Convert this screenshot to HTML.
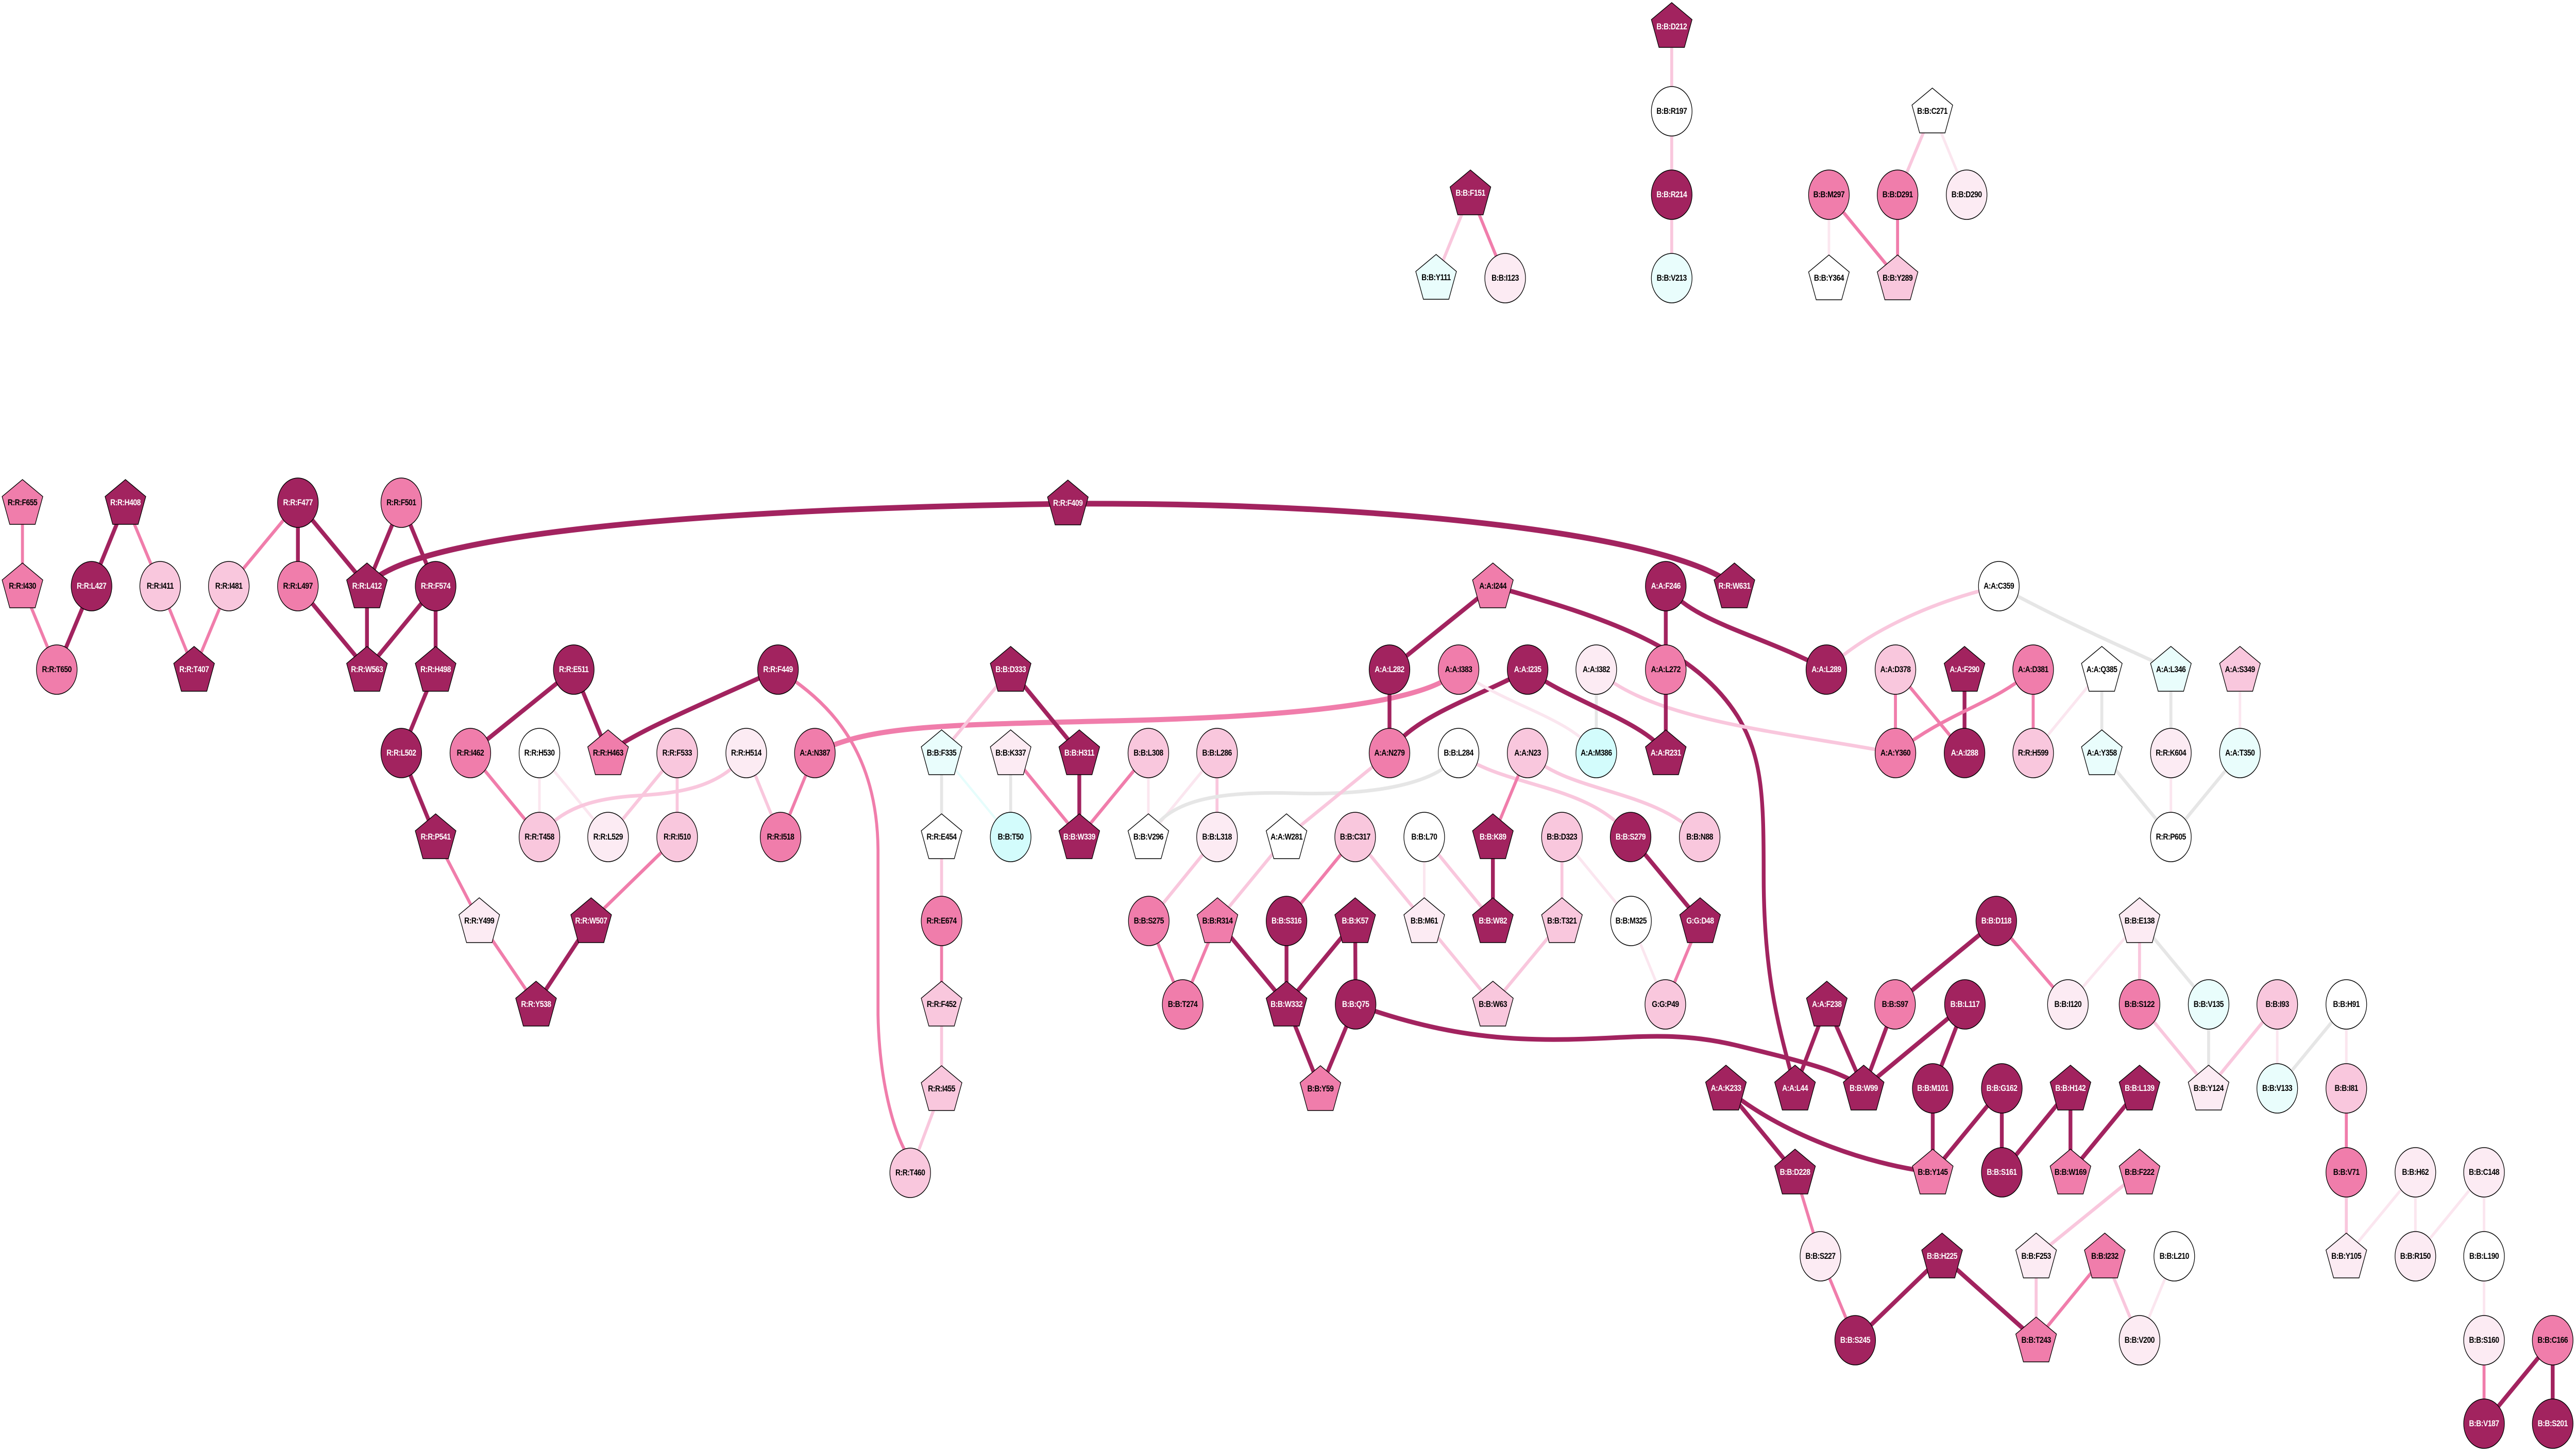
<!DOCTYPE html>
<html><head><meta charset="utf-8">
<meta name="viewport" content="width=6079">
<style>
html,body{margin:0;padding:0;background:#fff;overflow:hidden;width:100vw;height:100vh;}
svg{display:block;width:100vw;height:100vh;}
.D{fill:#a2235f;stroke:#000;stroke-width:1.5}
.M{fill:#f07dab;stroke:#000;stroke-width:1.5}
.L{fill:#f9c7dd;stroke:#000;stroke-width:1.5}
.V{fill:#fcebf3;stroke:#000;stroke-width:1.5}
.W{fill:#ffffff;stroke:#000;stroke-width:1.5}
.C{fill:#e9fdfc;stroke:#000;stroke-width:1.5}
.CC{fill:#d3fcfc;stroke:#000;stroke-width:1.5}
text{font-family:"Liberation Sans",Arial,sans-serif;font-weight:bold;font-size:17px;letter-spacing:-0.6px;text-anchor:middle;dominant-baseline:central;fill:#000}
text.w{fill:#fff}
.ed path,.ed line{fill:none;stroke-linecap:butt}
.d{stroke:#a2235f;stroke-width:9}
.dt{stroke:#a2235f;stroke-width:11}
.m{stroke:#f07dab;stroke-width:7}
.mt{stroke:#f07dab;stroke-width:10}
.l{stroke:#f9c7dd;stroke-width:7}
.v{stroke:#fbe6ef;stroke-width:6}
.g{stroke:#e6e6e6;stroke-width:7}
.c{stroke:#e6fdfc;stroke-width:5}
</style></head><body>
<svg viewBox="0 0 6079 2819" preserveAspectRatio="none" xmlns="http://www.w3.org/2000/svg">
<defs><polygon id="p" points="0,-45 48,-12 30,42 -30,42 -48,-12"/></defs>
<g class="ed">
<line class="m" x1="53" y1="976" x2="53" y2="1138"/>
<line class="d" x1="296" y1="976" x2="216" y2="1138"/>
<line class="m" x1="296" y1="976" x2="378" y2="1138"/>
<line class="m" x1="703" y1="976" x2="540" y2="1138"/>
<line class="d" x1="703" y1="976" x2="703" y2="1138"/>
<line class="d" x1="703" y1="976" x2="866" y2="1138"/>
<line class="d" x1="947" y1="976" x2="866" y2="1138"/>
<line class="d" x1="947" y1="976" x2="1028" y2="1138"/>
<line class="m" x1="53" y1="1138" x2="134" y2="1300"/>
<line class="d" x1="216" y1="1138" x2="134" y2="1300"/>
<line class="m" x1="378" y1="1138" x2="458" y2="1300"/>
<line class="m" x1="540" y1="1138" x2="458" y2="1300"/>
<line class="d" x1="703" y1="1138" x2="866" y2="1300"/>
<line class="d" x1="866" y1="1138" x2="866" y2="1300"/>
<line class="d" x1="1028" y1="1138" x2="866" y2="1300"/>
<line class="d" x1="1028" y1="1138" x2="1028" y2="1300"/>
<line class="d" x1="1028" y1="1300" x2="947" y2="1462"/>
<line class="d" x1="947" y1="1462" x2="1028" y2="1625"/>
<line class="m" x1="1028" y1="1625" x2="1131" y2="1788"/>
<line class="m" x1="1131" y1="1788" x2="1265" y2="1950"/>
<line class="d" x1="1395" y1="1788" x2="1265" y2="1950"/>
<line class="m" x1="1598" y1="1625" x2="1395" y2="1788"/>
<line class="d" x1="1354" y1="1300" x2="1110" y2="1462"/>
<line class="d" x1="1354" y1="1300" x2="1435" y2="1462"/>
<path class="d" d="M1836 1300 C1650 1370,1500 1420,1435 1462"/>
<path class="m" d="M1836 1300 C1950 1360,2070 1450,2072 1650 L2072 1970 C2075 2100,2110 2200,2140 2240"/>
<line class="m" x1="1110" y1="1462" x2="1273" y2="1625"/>
<line class="v" x1="1273" y1="1462" x2="1273" y2="1625"/>
<line class="v" x1="1273" y1="1462" x2="1435" y2="1625"/>
<line class="l" x1="1598" y1="1462" x2="1435" y2="1625"/>
<line class="l" x1="1598" y1="1462" x2="1598" y2="1625"/>
<path class="l" d="M1761 1462 C1700 1530,1600 1540,1500 1545 C1400 1550,1320 1570,1273 1625"/>
<line class="l" x1="1761" y1="1462" x2="1842" y2="1625"/>
<line class="m" x1="1923" y1="1462" x2="1842" y2="1625"/>
<path class="mt" d="M1923 1462 C2050 1410,2200 1408,2600 1400 C3100 1392,3380 1360,3442 1300"/>
<line class="l" x1="2385" y1="1300" x2="2222" y2="1462"/>
<line class="d" x1="2385" y1="1300" x2="2547" y2="1462"/>
<line class="g" x1="2222" y1="1462" x2="2222" y2="1625"/>
<line class="c" x1="2222" y1="1462" x2="2385" y2="1625"/>
<line class="g" x1="2385" y1="1462" x2="2385" y2="1625"/>
<line class="m" x1="2385" y1="1462" x2="2547" y2="1625"/>
<line class="d" x1="2547" y1="1462" x2="2547" y2="1625"/>
<line class="m" x1="2710" y1="1462" x2="2547" y2="1625"/>
<line class="v" x1="2710" y1="1462" x2="2710" y2="1625"/>
<line class="v" x1="2872" y1="1462" x2="2710" y2="1625"/>
<line class="l" x1="2872" y1="1462" x2="2872" y2="1625"/>
<path class="g" d="M3442 1462 C3400 1520,3250 1545,3050 1540 C2850 1535,2750 1560,2710 1625"/>
<line class="l" x1="2222" y1="1625" x2="2222" y2="1788"/>
<line class="m" x1="2222" y1="1788" x2="2222" y2="1950"/>
<line class="l" x1="2222" y1="1950" x2="2222" y2="2114"/>
<line class="l" x1="2222" y1="2114" x2="2148" y2="2277"/>
<line class="l" x1="2872" y1="1625" x2="2711" y2="1788"/>
<line class="l" x1="3036" y1="1625" x2="2873" y2="1788"/>
<line class="l" x1="3279" y1="1462" x2="3036" y2="1625"/>
<line class="d" x1="3279" y1="1300" x2="3279" y2="1462"/>
<line class="d" x1="3279" y1="1300" x2="3523" y2="1138"/>
<path class="d" d="M3605 1300 C3500 1350,3330 1390,3279 1462"/>
<line class="m" x1="3198" y1="1625" x2="3036" y2="1788"/>
<line class="l" x1="3198" y1="1625" x2="3361" y2="1788"/>
<line class="v" x1="3361" y1="1625" x2="3361" y2="1788"/>
<line class="l" x1="3361" y1="1625" x2="3523" y2="1788"/>
<line class="m" x1="2711" y1="1788" x2="2791" y2="1950"/>
<line class="m" x1="2873" y1="1788" x2="2791" y2="1950"/>
<line class="d" x1="2873" y1="1788" x2="3036" y2="1950"/>
<line class="d" x1="3036" y1="1788" x2="3036" y2="1950"/>
<line class="d" x1="3198" y1="1788" x2="3036" y2="1950"/>
<line class="d" x1="3198" y1="1788" x2="3199" y2="1950"/>
<line class="d" x1="3036" y1="1950" x2="3116" y2="2114"/>
<line class="d" x1="3199" y1="1950" x2="3116" y2="2114"/>
<path class="d" d="M3199 1950 C3400 2010,3550 2020,3700 2018 C3850 2016,3950 2000,4100 2030 C4250 2060,4350 2080,4398 2113"/>
<path class="dt" d="M866 1138 C950 1050,1500 990,2520 978 C3300 975,3950 1040,4093 1138"/>
<path class="d" d="M3523 1138 C3800 1200,4000 1260,4100 1390 C4160 1470,4162 1550,4162 1700 C4162 1900,4200 2000,4236 2113"/>
<line class="d" x1="3931" y1="1138" x2="3931" y2="1300"/>
<path class="d" d="M3931 1138 C4000 1210,4150 1230,4310 1300"/>
<path class="l" d="M4310 1300 C4400 1230,4550 1170,4717 1138"/>
<path class="v" d="M3442 1300 C3550 1370,3700 1390,3767 1462"/>
<line class="g" x1="3767" y1="1300" x2="3767" y2="1462"/>
<path class="l" d="M3767 1300 C3900 1400,4200 1420,4473 1462"/>
<path class="d" d="M3605 1300 C3700 1360,3880 1400,3931 1462"/>
<line class="d" x1="3931" y1="1300" x2="3931" y2="1462"/>
<line class="m" x1="4473" y1="1300" x2="4473" y2="1462"/>
<line class="m" x1="4473" y1="1300" x2="4636" y2="1462"/>
<line class="d" x1="4636" y1="1300" x2="4636" y2="1462"/>
<path class="m" d="M4473 1462 C4600 1380,4700 1370,4798 1300"/>
<line class="m" x1="4798" y1="1300" x2="4798" y2="1462"/>
<line class="v" x1="4960" y1="1300" x2="4798" y2="1462"/>
<line class="g" x1="4960" y1="1300" x2="4960" y2="1462"/>
<path class="g" d="M4717 1138 C4900 1220,5050 1270,5123 1300"/>
<line class="g" x1="5123" y1="1300" x2="5123" y2="1462"/>
<line class="v" x1="5286" y1="1300" x2="5286" y2="1462"/>
<line class="g" x1="4960" y1="1462" x2="5123" y2="1625"/>
<line class="v" x1="5123" y1="1462" x2="5123" y2="1625"/>
<line class="g" x1="5286" y1="1462" x2="5123" y2="1625"/>
<path class="l" d="M3442 1462 C3550 1530,3750 1520,3848 1625"/>
<line class="m" x1="3605" y1="1462" x2="3523" y2="1625"/>
<path class="l" d="M3605 1462 C3700 1540,3900 1530,4011 1625"/>
<line class="d" x1="3523" y1="1625" x2="3523" y2="1788"/>
<line class="l" x1="3686" y1="1625" x2="3686" y2="1788"/>
<line class="v" x1="3686" y1="1625" x2="3849" y2="1788"/>
<line class="d" x1="3848" y1="1625" x2="4012" y2="1788"/>
<line class="l" x1="3361" y1="1788" x2="3523" y2="1950"/>
<line class="l" x1="3686" y1="1788" x2="3523" y2="1950"/>
<line class="v" x1="3849" y1="1788" x2="3930" y2="1950"/>
<line class="m" x1="4012" y1="1788" x2="3930" y2="1950"/>
<line class="d" x1="4311" y1="1950" x2="4236" y2="2113"/>
<line class="d" x1="4311" y1="1950" x2="4398" y2="2113"/>
<line class="d" x1="4472" y1="1950" x2="4398" y2="2113"/>
<line class="d" x1="4472" y1="1950" x2="4711" y2="1788"/>
<line class="d" x1="4637" y1="1950" x2="4398" y2="2113"/>
<line class="d" x1="4637" y1="1950" x2="4561" y2="2113"/>
<line class="d" x1="4073" y1="2113" x2="4236" y2="2276"/>
<path class="d" d="M4073 2113 C4200 2200,4400 2260,4561 2276"/>
<line class="d" x1="4561" y1="2113" x2="4561" y2="2276"/>
<line class="d" x1="4724" y1="2113" x2="4561" y2="2276"/>
<line class="d" x1="4724" y1="2113" x2="4724" y2="2276"/>
<line class="d" x1="4886" y1="2113" x2="4724" y2="2276"/>
<line class="d" x1="4886" y1="2113" x2="4886" y2="2276"/>
<line class="d" x1="5049" y1="2113" x2="4886" y2="2276"/>
<line class="l" x1="5049" y1="2276" x2="4805" y2="2439"/>
<line class="m" x1="4711" y1="1788" x2="4880" y2="1950"/>
<line class="v" x1="5049" y1="1788" x2="4880" y2="1950"/>
<line class="l" x1="5049" y1="1788" x2="5049" y2="1950"/>
<line class="g" x1="5049" y1="1788" x2="5212" y2="1950"/>
<line class="l" x1="5049" y1="1950" x2="5212" y2="2113"/>
<line class="g" x1="5212" y1="1950" x2="5212" y2="2113"/>
<line class="l" x1="5374" y1="1950" x2="5212" y2="2113"/>
<line class="v" x1="5374" y1="1950" x2="5374" y2="2113"/>
<line class="g" x1="5537" y1="1950" x2="5374" y2="2113"/>
<line class="v" x1="5537" y1="1950" x2="5537" y2="2113"/>
<line class="m" x1="5537" y1="2113" x2="5537" y2="2276"/>
<line class="l" x1="5537" y1="2276" x2="5537" y2="2439"/>
<line class="v" x1="5700" y1="2276" x2="5537" y2="2439"/>
<line class="v" x1="5700" y1="2276" x2="5700" y2="2439"/>
<line class="v" x1="5862" y1="2276" x2="5700" y2="2439"/>
<line class="v" x1="5862" y1="2276" x2="5862" y2="2439"/>
<line class="d" x1="4583" y1="2439" x2="4805" y2="2602"/>
<line class="l" x1="4805" y1="2439" x2="4805" y2="2602"/>
<line class="m" x1="4967" y1="2439" x2="4805" y2="2602"/>
<line class="l" x1="4967" y1="2439" x2="5049" y2="2602"/>
<line class="v" x1="5131" y1="2439" x2="5049" y2="2602"/>
<line class="v" x1="5862" y1="2439" x2="5862" y2="2602"/>
<line class="m" x1="5862" y1="2602" x2="5862" y2="2764"/>
<line class="d" x1="6024" y1="2602" x2="5862" y2="2764"/>
<line class="d" x1="6024" y1="2602" x2="6024" y2="2764"/>
<line class="m" x1="4236" y1="2276" x2="4296" y2="2439"/>
<line class="m" x1="4296" y1="2439" x2="4378" y2="2602"/>
<line class="d" x1="4583" y1="2439" x2="4378" y2="2602"/>
<line class="l" x1="3945" y1="50" x2="3945" y2="216"/>
<line class="l" x1="3945" y1="216" x2="3945" y2="378"/>
<line class="l" x1="3945" y1="378" x2="3945" y2="540"/>
<line class="l" x1="3470" y1="375" x2="3389" y2="539"/>
<line class="m" x1="3470" y1="375" x2="3552" y2="540"/>
<line class="l" x1="4560" y1="216" x2="4478" y2="378"/>
<line class="v" x1="4560" y1="216" x2="4641" y2="378"/>
<line class="v" x1="4316" y1="378" x2="4316" y2="540"/>
<line class="m" x1="4316" y1="378" x2="4478" y2="540"/>
<line class="m" x1="4478" y1="378" x2="4478" y2="540"/>
</g>
<g>
<use href="#p" class="M" x="53" y="976"/><text x="53" y="976">R:R:F655</text>
<use href="#p" class="D" x="296" y="976"/><text class="w" x="296" y="976">R:R:H408</text>
<circle class="D" cx="703" cy="976" r="48"/><text class="w" x="703" y="976">R:R:F477</text>
<circle class="M" cx="947" cy="976" r="48"/><text x="947" y="976">R:R:F501</text>
<use href="#p" class="M" x="53" y="1138"/><text x="53" y="1138">R:R:I430</text>
<circle class="D" cx="216" cy="1138" r="48"/><text class="w" x="216" y="1138">R:R:L427</text>
<circle class="L" cx="378" cy="1138" r="48"/><text x="378" y="1138">R:R:I411</text>
<circle class="L" cx="540" cy="1138" r="48"/><text x="540" y="1138">R:R:I481</text>
<circle class="M" cx="703" cy="1138" r="48"/><text x="703" y="1138">R:R:L497</text>
<use href="#p" class="D" x="866" y="1138"/><text class="w" x="866" y="1138">R:R:L412</text>
<circle class="D" cx="1028" cy="1138" r="48"/><text class="w" x="1028" y="1138">R:R:F574</text>
<circle class="M" cx="134" cy="1300" r="48"/><text x="134" y="1300">R:R:T650</text>
<use href="#p" class="D" x="458" y="1300"/><text class="w" x="458" y="1300">R:R:T407</text>
<use href="#p" class="D" x="866" y="1300"/><text class="w" x="866" y="1300">R:R:W563</text>
<use href="#p" class="D" x="1028" y="1300"/><text class="w" x="1028" y="1300">R:R:H498</text>
<circle class="D" cx="947" cy="1462" r="48"/><text class="w" x="947" y="1462">R:R:L502</text>
<circle class="M" cx="1110" cy="1462" r="48"/><text x="1110" y="1462">R:R:I462</text>
<circle class="W" cx="1273" cy="1462" r="48"/><text x="1273" y="1462">R:R:H530</text>
<use href="#p" class="D" x="1028" y="1625"/><text class="w" x="1028" y="1625">R:R:P541</text>
<circle class="L" cx="1273" cy="1625" r="48"/><text x="1273" y="1625">R:R:T458</text>
<circle class="D" cx="1354" cy="1300" r="48"/><text class="w" x="1354" y="1300">R:R:E511</text>
<circle class="D" cx="1836" cy="1300" r="48"/><text class="w" x="1836" y="1300">R:R:F449</text>
<use href="#p" class="M" x="1435" y="1462"/><text x="1435" y="1462">R:R:H463</text>
<circle class="L" cx="1598" cy="1462" r="48"/><text x="1598" y="1462">R:R:F533</text>
<circle class="V" cx="1761" cy="1462" r="48"/><text x="1761" y="1462">R:R:H514</text>
<circle class="M" cx="1923" cy="1462" r="48"/><text x="1923" y="1462">A:A:N387</text>
<use href="#p" class="C" x="2222" y="1462"/><text x="2222" y="1462">B:B:F335</text>
<circle class="V" cx="1435" cy="1625" r="48"/><text x="1435" y="1625">R:R:L529</text>
<circle class="L" cx="1598" cy="1625" r="48"/><text x="1598" y="1625">R:R:I510</text>
<circle class="M" cx="1842" cy="1625" r="48"/><text x="1842" y="1625">R:R:I518</text>
<use href="#p" class="W" x="2222" y="1625"/><text x="2222" y="1625">R:R:E454</text>
<use href="#p" class="V" x="1131" y="1788"/><text x="1131" y="1788">R:R:Y499</text>
<use href="#p" class="D" x="1395" y="1788"/><text class="w" x="1395" y="1788">R:R:W507</text>
<circle class="M" cx="2222" cy="1788" r="48"/><text x="2222" y="1788">R:R:E674</text>
<use href="#p" class="D" x="1265" y="1950"/><text class="w" x="1265" y="1950">R:R:Y538</text>
<use href="#p" class="L" x="2222" y="1950"/><text x="2222" y="1950">R:R:F452</text>
<use href="#p" class="L" x="2222" y="2114"/><text x="2222" y="2114">R:R:I455</text>
<circle class="L" cx="2148" cy="2277" r="48"/><text x="2148" y="2277">R:R:T460</text>
<use href="#p" class="D" x="2520" y="977"/><text class="w" x="2520" y="977">R:R:F409</text>
<use href="#p" class="D" x="2385" y="1300"/><text class="w" x="2385" y="1300">B:B:D333</text>
<use href="#p" class="V" x="2385" y="1462"/><text x="2385" y="1462">B:B:K337</text>
<use href="#p" class="D" x="2547" y="1462"/><text class="w" x="2547" y="1462">B:B:H311</text>
<circle class="L" cx="2710" cy="1462" r="48"/><text x="2710" y="1462">B:B:L308</text>
<circle class="L" cx="2872" cy="1462" r="48"/><text x="2872" y="1462">B:B:L286</text>
<circle class="CC" cx="2385" cy="1625" r="48"/><text x="2385" y="1625">B:B:T50</text>
<use href="#p" class="D" x="2547" y="1625"/><text class="w" x="2547" y="1625">B:B:W339</text>
<use href="#p" class="W" x="2710" y="1625"/><text x="2710" y="1625">B:B:V296</text>
<circle class="V" cx="2872" cy="1625" r="48"/><text x="2872" y="1625">B:B:L318</text>
<circle class="M" cx="2711" cy="1788" r="48"/><text x="2711" y="1788">B:B:S275</text>
<use href="#p" class="M" x="2873" y="1788"/><text x="2873" y="1788">B:B:R314</text>
<circle class="M" cx="2791" cy="1950" r="48"/><text x="2791" y="1950">B:B:T274</text>
<circle class="D" cx="3279" cy="1300" r="48"/><text class="w" x="3279" y="1300">A:A:L282</text>
<circle class="M" cx="3442" cy="1300" r="48"/><text x="3442" y="1300">A:A:I383</text>
<circle class="M" cx="3279" cy="1462" r="48"/><text x="3279" y="1462">A:A:N279</text>
<circle class="W" cx="3442" cy="1462" r="48"/><text x="3442" y="1462">B:B:L284</text>
<use href="#p" class="W" x="3036" y="1625"/><text x="3036" y="1625">A:A:W281</text>
<circle class="L" cx="3198" cy="1625" r="48"/><text x="3198" y="1625">B:B:C317</text>
<circle class="W" cx="3361" cy="1625" r="48"/><text x="3361" y="1625">B:B:L70</text>
<circle class="D" cx="3036" cy="1788" r="48"/><text class="w" x="3036" y="1788">B:B:S316</text>
<use href="#p" class="D" x="3198" y="1788"/><text class="w" x="3198" y="1788">B:B:K57</text>
<use href="#p" class="V" x="3361" y="1788"/><text x="3361" y="1788">B:B:M61</text>
<use href="#p" class="D" x="3036" y="1950"/><text class="w" x="3036" y="1950">B:B:W332</text>
<circle class="D" cx="3199" cy="1950" r="48"/><text class="w" x="3199" y="1950">B:B:Q75</text>
<use href="#p" class="M" x="3116" y="2114"/><text x="3116" y="2114">B:B:Y59</text>
<use href="#p" class="M" x="3523" y="1138"/><text x="3523" y="1138">A:A:I244</text>
<circle class="D" cx="3931" cy="1138" r="48"/><text class="w" x="3931" y="1138">A:A:F246</text>
<use href="#p" class="D" x="4093" y="1138"/><text class="w" x="4093" y="1138">R:R:W631</text>
<circle class="W" cx="4717" cy="1138" r="48"/><text x="4717" y="1138">A:A:C359</text>
<circle class="D" cx="3605" cy="1300" r="48"/><text class="w" x="3605" y="1300">A:A:I235</text>
<circle class="V" cx="3767" cy="1300" r="48"/><text x="3767" y="1300">A:A:I382</text>
<circle class="M" cx="3931" cy="1300" r="48"/><text x="3931" y="1300">A:A:L272</text>
<circle class="D" cx="4310" cy="1300" r="48"/><text class="w" x="4310" y="1300">A:A:L289</text>
<circle class="L" cx="4473" cy="1300" r="48"/><text x="4473" y="1300">A:A:D378</text>
<use href="#p" class="D" x="4636" y="1300"/><text class="w" x="4636" y="1300">A:A:F290</text>
<circle class="M" cx="4798" cy="1300" r="48"/><text x="4798" y="1300">A:A:D381</text>
<use href="#p" class="W" x="4960" y="1300"/><text x="4960" y="1300">A:A:Q385</text>
<use href="#p" class="C" x="5123" y="1300"/><text x="5123" y="1300">A:A:L346</text>
<use href="#p" class="L" x="5286" y="1300"/><text x="5286" y="1300">A:A:S349</text>
<circle class="L" cx="3605" cy="1462" r="48"/><text x="3605" y="1462">A:A:N23</text>
<circle class="CC" cx="3767" cy="1462" r="48"/><text x="3767" y="1462">A:A:M386</text>
<use href="#p" class="D" x="3931" y="1462"/><text class="w" x="3931" y="1462">A:A:R231</text>
<circle class="M" cx="4473" cy="1462" r="48"/><text x="4473" y="1462">A:A:Y360</text>
<circle class="D" cx="4636" cy="1462" r="48"/><text class="w" x="4636" y="1462">A:A:I288</text>
<circle class="L" cx="4798" cy="1462" r="48"/><text x="4798" y="1462">R:R:H599</text>
<use href="#p" class="C" x="4960" y="1462"/><text x="4960" y="1462">A:A:Y358</text>
<circle class="V" cx="5123" cy="1462" r="48"/><text x="5123" y="1462">R:R:K604</text>
<circle class="C" cx="5286" cy="1462" r="48"/><text x="5286" y="1462">A:A:T350</text>
<circle class="W" cx="5123" cy="1625" r="48"/><text x="5123" y="1625">R:R:P605</text>
<use href="#p" class="D" x="3523" y="1625"/><text class="w" x="3523" y="1625">B:B:K89</text>
<circle class="L" cx="3686" cy="1625" r="48"/><text x="3686" y="1625">B:B:D323</text>
<circle class="D" cx="3848" cy="1625" r="48"/><text class="w" x="3848" y="1625">B:B:S279</text>
<circle class="L" cx="4011" cy="1625" r="48"/><text x="4011" y="1625">B:B:N88</text>
<use href="#p" class="D" x="3523" y="1788"/><text class="w" x="3523" y="1788">B:B:W82</text>
<use href="#p" class="L" x="3686" y="1788"/><text x="3686" y="1788">B:B:T321</text>
<circle class="W" cx="3849" cy="1788" r="48"/><text x="3849" y="1788">B:B:M325</text>
<use href="#p" class="D" x="4012" y="1788"/><text class="w" x="4012" y="1788">G:G:D48</text>
<circle class="D" cx="4711" cy="1788" r="48"/><text class="w" x="4711" y="1788">B:B:D118</text>
<use href="#p" class="V" x="5049" y="1788"/><text x="5049" y="1788">B:B:E138</text>
<use href="#p" class="L" x="3523" y="1950"/><text x="3523" y="1950">B:B:W63</text>
<circle class="L" cx="3930" cy="1950" r="48"/><text x="3930" y="1950">G:G:P49</text>
<use href="#p" class="D" x="4311" y="1950"/><text class="w" x="4311" y="1950">A:A:F238</text>
<circle class="M" cx="4472" cy="1950" r="48"/><text x="4472" y="1950">B:B:S97</text>
<circle class="D" cx="4637" cy="1950" r="48"/><text class="w" x="4637" y="1950">B:B:L117</text>
<circle class="V" cx="4880" cy="1950" r="48"/><text x="4880" y="1950">B:B:I120</text>
<circle class="M" cx="5049" cy="1950" r="48"/><text x="5049" y="1950">B:B:S122</text>
<circle class="C" cx="5212" cy="1950" r="48"/><text x="5212" y="1950">B:B:V135</text>
<circle class="L" cx="5374" cy="1950" r="48"/><text x="5374" y="1950">B:B:I93</text>
<circle class="W" cx="5537" cy="1950" r="48"/><text x="5537" y="1950">B:B:H91</text>
<use href="#p" class="D" x="4073" y="2113"/><text class="w" x="4073" y="2113">A:A:K233</text>
<use href="#p" class="D" x="4236" y="2113"/><text class="w" x="4236" y="2113">A:A:L44</text>
<use href="#p" class="D" x="4398" y="2113"/><text class="w" x="4398" y="2113">B:B:W99</text>
<circle class="D" cx="4561" cy="2113" r="48"/><text class="w" x="4561" y="2113">B:B:M101</text>
<circle class="D" cx="4724" cy="2113" r="48"/><text class="w" x="4724" y="2113">B:B:G162</text>
<use href="#p" class="D" x="4886" y="2113"/><text class="w" x="4886" y="2113">B:B:H142</text>
<use href="#p" class="D" x="5049" y="2113"/><text class="w" x="5049" y="2113">B:B:L139</text>
<use href="#p" class="V" x="5212" y="2113"/><text x="5212" y="2113">B:B:Y124</text>
<circle class="C" cx="5374" cy="2113" r="48"/><text x="5374" y="2113">B:B:V133</text>
<circle class="L" cx="5537" cy="2113" r="48"/><text x="5537" y="2113">B:B:I81</text>
<use href="#p" class="D" x="4236" y="2276"/><text class="w" x="4236" y="2276">B:B:D228</text>
<use href="#p" class="M" x="4561" y="2276"/><text x="4561" y="2276">B:B:Y145</text>
<circle class="D" cx="4724" cy="2276" r="48"/><text class="w" x="4724" y="2276">B:B:S161</text>
<use href="#p" class="M" x="4886" y="2276"/><text x="4886" y="2276">B:B:W169</text>
<use href="#p" class="M" x="5049" y="2276"/><text x="5049" y="2276">B:B:F222</text>
<circle class="M" cx="5537" cy="2276" r="48"/><text x="5537" y="2276">B:B:V71</text>
<circle class="V" cx="5700" cy="2276" r="48"/><text x="5700" y="2276">B:B:H62</text>
<circle class="V" cx="5862" cy="2276" r="48"/><text x="5862" y="2276">B:B:C148</text>
<circle class="V" cx="4296" cy="2439" r="48"/><text x="4296" y="2439">B:B:S227</text>
<use href="#p" class="D" x="4583" y="2439"/><text class="w" x="4583" y="2439">B:B:H225</text>
<use href="#p" class="V" x="4805" y="2439"/><text x="4805" y="2439">B:B:F253</text>
<use href="#p" class="M" x="4967" y="2439"/><text x="4967" y="2439">B:B:I232</text>
<circle class="W" cx="5131" cy="2439" r="48"/><text x="5131" y="2439">B:B:L210</text>
<use href="#p" class="V" x="5537" y="2439"/><text x="5537" y="2439">B:B:Y105</text>
<circle class="V" cx="5700" cy="2439" r="48"/><text x="5700" y="2439">B:B:R150</text>
<circle class="W" cx="5862" cy="2439" r="48"/><text x="5862" y="2439">B:B:L190</text>
<circle class="D" cx="4378" cy="2602" r="48"/><text class="w" x="4378" y="2602">B:B:S245</text>
<use href="#p" class="M" x="4805" y="2602"/><text x="4805" y="2602">B:B:T243</text>
<circle class="V" cx="5049" cy="2602" r="48"/><text x="5049" y="2602">B:B:V200</text>
<circle class="V" cx="5862" cy="2602" r="48"/><text x="5862" y="2602">B:B:S160</text>
<circle class="M" cx="6024" cy="2602" r="48"/><text x="6024" y="2602">B:B:C166</text>
<circle class="D" cx="5862" cy="2764" r="48"/><text class="w" x="5862" y="2764">B:B:V187</text>
<circle class="D" cx="6024" cy="2764" r="48"/><text class="w" x="6024" y="2764">B:B:S201</text>
<use href="#p" class="D" x="3945" y="50"/><text class="w" x="3945" y="52">B:B:D212</text>
<circle class="W" cx="3945" cy="216" r="48"/><text x="3945" y="216">B:B:R197</text>
<circle class="D" cx="3945" cy="378" r="48"/><text class="w" x="3945" y="378">B:B:R214</text>
<circle class="C" cx="3945" cy="540" r="48"/><text x="3945" y="540">B:B:V213</text>
<use href="#p" class="D" x="3470" y="375"/><text class="w" x="3470" y="375">B:B:F151</text>
<use href="#p" class="C" x="3389" y="539"/><text x="3389" y="539">B:B:Y111</text>
<circle class="V" cx="3552" cy="540" r="48"/><text x="3552" y="540">B:B:I123</text>
<use href="#p" class="W" x="4560" y="216"/><text x="4560" y="216">B:B:C271</text>
<circle class="M" cx="4316" cy="378" r="48"/><text x="4316" y="378">B:B:M297</text>
<circle class="M" cx="4478" cy="378" r="48"/><text x="4478" y="378">B:B:D291</text>
<circle class="V" cx="4641" cy="378" r="48"/><text x="4641" y="378">B:B:D290</text>
<use href="#p" class="W" x="4316" y="540"/><text x="4316" y="540">B:B:Y364</text>
<use href="#p" class="L" x="4478" y="540"/><text x="4478" y="540">B:B:Y289</text>
</g>
</svg>
</body></html>
